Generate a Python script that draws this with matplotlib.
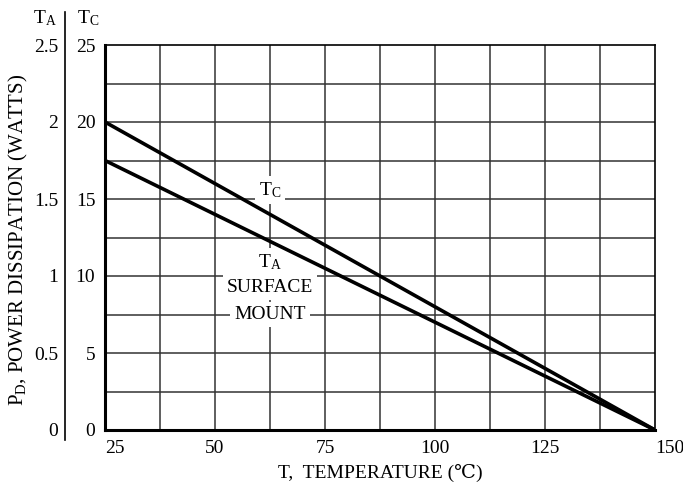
import matplotlib
matplotlib.use("Agg")
import matplotlib.pyplot as plt
from matplotlib.lines import Line2D

plt.rcParams['font.family'] = ['Liberation Serif', 'DejaVu Serif']
plt.rcParams['mathtext.fontset'] = 'custom'
plt.rcParams['mathtext.rm'] = 'Liberation Serif'
plt.rcParams['mathtext.it'] = 'Liberation Serif'

# data
temp = [25, 150]
tc_watts = [20, 0]
ta_watts = [1.75, 0]          # read on the T_A scale (x10 on the T_C scale)
x_ticks = [25, 50, 75, 100, 125, 150]
tc_ticks = [0, 5, 10, 15, 20, 25]
ta_ticks = [0, 0.5, 1, 1.5, 2, 2.5]
ta_tick_labels = ['0', '0.5', '1', '1.5', '2', '2.5']

fs = 14

fig = plt.figure(figsize=(6.83, 4.93), dpi=100)
ax = fig.add_axes([105/683, 1-430/493, 550/683, 385/493])

ax.set_xlim(25, 150)
ax.set_ylim(0, 25)

# grid every 12.5 C and every 2.5 W
for gx in [25 + 12.5*i for i in range(1, 10)]:
    ax.axvline(gx, color='#333333', lw=1.1, zorder=1)
for gy in [2.5*i for i in range(1, 10)]:
    ax.axhline(gy, color='#333333', lw=1.1, zorder=1)

ax.plot(temp, tc_watts, color='black', lw=2.6, zorder=5, solid_capstyle='butt')
ax.plot(temp, [v*10 for v in ta_watts], color='black', lw=2.6, zorder=5, solid_capstyle='butt')

ax.set_xticks(x_ticks)
ax.set_xticklabels([str(v) for v in x_ticks])
ax.set_yticks(tc_ticks)
ax.set_yticklabels([str(v) for v in tc_ticks])
ax.tick_params(length=0, labelsize=fs, pad=7)
ax.tick_params(axis='x', pad=7)
for lab in ax.get_xticklabels():
    if lab.get_text() in ('25', '150'):
        lab.set_ha('left')
for spine in ['left', 'bottom']:
    ax.spines[spine].set_linewidth(2.2)
for spine in ['top', 'right']:
    ax.spines[spine].set_linewidth(1.2)

# T_A scale
sec = ax.secondary_yaxis(-40/550, functions=(lambda y: y/10, lambda y: y*10))
sec.set_yticks(ta_ticks)
sec.set_yticklabels(ta_tick_labels)
sec.tick_params(length=0, labelsize=fs, pad=5)
sec.spines['left'].set_visible(False)
fig.add_artist(Line2D([65/683, 65/683], [1-440/493, 1-12/493],
                      transform=fig.transFigure, color='black', lw=1.2))

fig.text(45/683, 1-18/493, r'$\mathrm{T_A}$', ha='center', va='center', fontsize=fs)
fig.text(88/683, 1-18/493, r'$\mathrm{T_C}$', ha='center', va='center', fontsize=fs)

box = dict(facecolor='white', edgecolor='none', pad=3)
ax.text(62.5, 15.6, r'$\mathrm{T_C}$', ha='center', va='center', fontsize=fs, bbox=box, zorder=4)
ax.text(62.5, 10.9, r'$\mathrm{T_A}$', ha='center', va='center', fontsize=fs, bbox=box, zorder=4)
ax.text(62.5, 9.25, 'SURFACE', ha='center', va='center', fontsize=fs, bbox=box, zorder=4)
ax.text(62.5, 7.5, 'MOUNT', ha='center', va='center', fontsize=fs, bbox=box, zorder=4)

fig.text(18/683, 1-240/493, r'$\mathrm{P_D}$, POWER DISSIPATION (WATTS)', rotation=90,
         ha='center', va='center', fontsize=15)
fig.text(380/683, 1-473/493, 'T,  TEMPERATURE (\u2103)', ha='center', va='center', fontsize=fs)

fig.savefig('out.png', dpi=100)
